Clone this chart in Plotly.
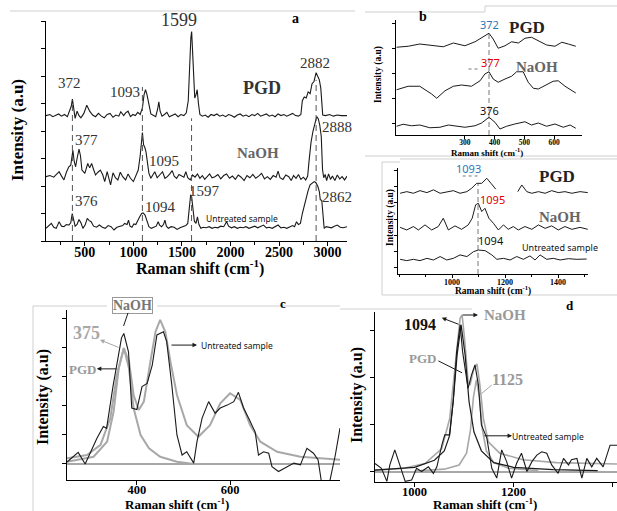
import plotly.graph_objects as go

W, H = 617, 511
SERIF = "Liberation Serif, Times New Roman, serif"
SANS = "Noto Sans, Liberation Sans, sans-serif"


def PX(v):
    return v / W


def PY(v):
    return 1 - v / H


# ---------------- Panel a: full Raman spectra ----------------
a_pgd_x = [100, 140, 170, 200, 230, 260, 290, 320, 340, 360,
           372, 385, 400, 420, 440, 460, 490, 520, 550, 580,
           610, 640, 670, 700, 730, 760, 790, 820, 850, 870,
           900, 920, 945, 970, 995, 1020, 1045, 1070, 1093, 1110,
           1125, 1140, 1160, 1180, 1200, 1230, 1250, 1262, 1275, 1295,
           1320, 1345, 1370, 1400, 1430, 1460, 1490, 1520, 1545, 1565,
           1580, 1592, 1600, 1610, 1620, 1632, 1645, 1657, 1670, 1685,
           1710, 1740, 1770, 1800, 1830, 1860, 1890, 1920, 1950, 1980,
           2010, 2040, 2070, 2100, 2130, 2160, 2190, 2220, 2250, 2280,
           2310, 2340, 2370, 2400, 2430, 2460, 2490, 2520, 2550, 2580,
           2610, 2640, 2670, 2700, 2725, 2740, 2760, 2780, 2800, 2820,
           2840, 2860, 2882, 2900, 2915, 2930, 2940, 2950, 2980, 3020,
           3060, 3100, 3140, 3200]
a_pgd_y = [2.28, 2.30, 2.26, 2.29, 2.31, 2.27, 2.30, 2.26, 2.34, 2.45,
           2.58, 2.38, 2.23, 2.36, 2.28, 2.24, 2.32, 2.47, 2.36, 2.29,
           2.26, 2.32, 2.27, 2.24, 2.30, 2.32, 2.25, 2.29, 2.27, 2.35,
           2.28, 2.33, 2.36, 2.26, 2.30, 2.28, 2.34, 2.30, 2.42, 2.66,
           2.75, 2.66, 2.45, 2.31, 2.29, 2.26, 2.40, 2.53, 2.36, 2.27,
           2.30, 2.34, 2.26, 2.29, 2.31, 2.26, 2.30, 2.28, 2.33, 2.55,
           3.29, 3.70, 3.81, 3.50, 3.10, 2.60, 2.66, 2.75, 2.50, 2.30,
           2.27, 2.29, 2.25, 2.30, 2.28, 2.31, 2.27, 2.29, 2.26, 2.30,
           2.28, 2.25, 2.29, 2.31, 2.27, 2.29, 2.26, 2.30, 2.28, 2.32,
           2.27, 2.29, 2.31, 2.27, 2.29, 2.26, 2.31, 2.28, 2.30, 2.27,
           2.29, 2.32, 2.28, 2.27, 2.30, 2.55, 2.62, 2.60, 2.71, 2.68,
           2.86, 2.90, 3.06, 3.00, 2.93, 2.78, 2.55, 2.29, 2.28, 2.30,
           2.27, 2.29, 2.28, 2.28]

a_naoh_x = [100, 140, 180, 210, 235, 260, 285, 310, 335, 355,
            365, 377, 390, 405, 420, 440, 455, 470, 500, 530,
            550, 570, 590, 610, 635, 660, 685, 705, 730, 750,
            765, 790, 815, 840, 865, 890, 920, 945, 970, 1000,
            1025, 1050, 1070, 1085, 1093, 1105, 1118, 1130, 1145, 1160,
            1180, 1200, 1220, 1245, 1270, 1300, 1325, 1350, 1375, 1400,
            1420, 1445, 1470, 1495, 1520, 1540, 1560, 1585, 1610, 1635,
            1660, 1685, 1710, 1735, 1760, 1785, 1810, 1840, 1870, 1900,
            1930, 1960, 1990, 2020, 2050, 2080, 2110, 2140, 2170, 2200,
            2230, 2260, 2290, 2320, 2350, 2380, 2410, 2440, 2470, 2490,
            2510, 2540, 2570, 2600, 2625, 2650, 2675, 2700, 2725, 2750,
            2775, 2795, 2810, 2830, 2850, 2870, 2888, 2905, 2920, 2935,
            2948, 2960, 2975, 2990, 3010, 3030, 3050, 3075, 3100, 3125,
            3150, 3175, 3200]
a_naoh_y = [1.17, 1.19, 1.16, 1.22, 1.26, 1.18, 1.11, 1.25, 1.35, 1.38,
            1.50, 1.65, 1.45, 1.35, 1.50, 1.67, 1.55, 1.29, 1.23, 1.41,
            1.33, 1.41, 1.30, 1.20, 1.25, 1.29, 1.20, 1.08, 1.26, 1.10,
            1.02, 1.24, 1.15, 1.11, 1.25, 1.17, 1.11, 1.22, 1.14, 1.08,
            1.20, 1.29, 1.55, 1.90, 1.97, 1.75, 1.70, 1.62, 1.40, 1.23,
            1.14, 1.20, 1.26, 1.15, 1.20, 1.26, 1.14, 1.17, 1.22, 1.28,
            1.18, 1.14, 1.21, 1.18, 1.16, 1.26, 1.15, 1.11, 1.20, 1.16,
            1.22, 1.14, 1.19, 1.12, 1.18, 1.22, 1.15, 1.17, 1.21, 1.13,
            1.19, 1.22, 1.14, 1.18, 1.12, 1.20, 1.16, 1.10, 1.19, 1.15,
            1.21, 1.14, 1.18, 1.23, 1.13, 1.17, 1.12, 1.19, 1.16, 1.27,
            1.15, 1.12, 1.20, 1.17, 1.10, 1.19, 1.14, 1.21, 1.12, 1.16,
            1.11, 1.18, 1.47, 1.80, 2.00, 2.14, 2.26, 2.22, 2.10, 1.90,
            1.30, 1.15, 1.21, 1.10, 1.22, 1.12, 1.18, 1.10, 1.20, 1.13,
            1.17, 1.11, 1.18]

a_unt_x = [100, 130, 155, 180, 205, 235, 260, 285, 310, 335,
           355, 370, 385, 400, 420, 440, 460, 480, 505, 525,
           545, 565, 590, 620, 650, 680, 710, 740, 770, 800,
           830, 860, 890, 910, 935, 950, 965, 985, 1005, 1025,
           1045, 1065, 1085, 1100, 1120, 1140, 1160, 1185, 1210, 1235,
           1255, 1270, 1290, 1310, 1325, 1340, 1360, 1390, 1420, 1450,
           1480, 1510, 1540, 1560, 1578, 1590, 1600, 1612, 1628, 1645,
           1660, 1675, 1695, 1720, 1750, 1780, 1810, 1840, 1870, 1900,
           1930, 1960, 1980, 2010, 2040, 2070, 2100, 2130, 2160, 2190,
           2220, 2250, 2280, 2310, 2340, 2370, 2400, 2430, 2460, 2490,
           2520, 2550, 2580, 2610, 2640, 2660, 2680, 2700, 2720, 2740,
           2760, 2780, 2800, 2820, 2840, 2862, 2880, 2900, 2915, 2925,
           2940, 2950, 2965, 2985, 3010, 3040, 3070, 3100, 3130, 3160,
           3200]
a_unt_y = [0.23, 0.28, 0.32, 0.25, 0.23, 0.35, 0.27, 0.26, 0.30, 0.29,
           0.33, 0.50, 0.38, 0.27, 0.30, 0.39, 0.33, 0.23, 0.30, 0.41,
           0.37, 0.35, 0.27, 0.25, 0.29, 0.25, 0.23, 0.28, 0.26, 0.20,
           0.25, 0.26, 0.28, 0.32, 0.30, 0.38, 0.27, 0.25, 0.31, 0.30,
           0.38, 0.44, 0.50, 0.51, 0.47, 0.38, 0.26, 0.23, 0.25, 0.27,
           0.35, 0.29, 0.26, 0.30, 0.38, 0.27, 0.23, 0.26, 0.25, 0.21,
           0.24, 0.26, 0.28, 0.32, 0.62, 0.84, 0.80, 0.62, 0.36, 0.32,
           0.44, 0.30, 0.23, 0.25, 0.24, 0.26, 0.23, 0.25, 0.24, 0.27,
           0.26, 0.35, 0.27, 0.24, 0.26, 0.23, 0.25, 0.24, 0.26, 0.23,
           0.25, 0.27, 0.24, 0.26, 0.29, 0.24, 0.25, 0.23, 0.26, 0.29,
           0.24, 0.25, 0.23, 0.26, 0.28, 0.26, 0.35, 0.30, 0.32, 0.50,
           0.65, 0.81, 0.92, 1.02, 1.05, 1.08, 1.06, 0.99, 0.90, 0.75,
           0.74, 0.45, 0.23, 0.26, 0.25, 0.24, 0.27, 0.29, 0.25, 0.24,
           0.26]

a_peak_x = [372, 1093, 1599, 2882]
a_peak_top = [2.56, 2.80, 2.23, 2.93]

# ---------------- Panel b: 200-650 region ----------------
b_pgd_x = [70, 109, 148, 188, 227, 261, 300, 334, 362, 381, 395, 412,
           435, 457, 480, 502, 524, 547, 575, 603, 626, 648, 673]
b_pgd_y = [3.03, 3.07, 3.16, 3.09, 3.05, 3.20, 3.09, 3.25, 3.47, 3.59, 3.36, 2.99,
           3.09, 3.25, 3.20, 3.39, 3.43, 3.29, 3.12, 3.07, 3.23, 3.16, 3.07]
b_naoh_x = [70, 109, 148, 188, 205, 233, 261, 289, 322, 351, 367, 381, 395,
            412, 435, 457, 474, 496, 513, 530, 547, 575, 597, 614, 637, 673]
b_naoh_y = [1.33, 1.47, 1.47, 1.16, 0.99, 1.29, 1.47, 1.52, 1.47, 1.69, 1.96, 2.05, 1.76,
            1.63, 1.76, 1.87, 2.05, 2.05, 1.63, 1.39, 1.36, 1.52, 1.67, 1.69, 1.47, 1.20]
b_unt_x = [70, 92, 120, 148, 182, 216, 244, 278, 300, 334, 356, 381,
           401, 418, 440, 468, 502, 524, 547, 575, 603, 631, 654, 673]
b_unt_y = [-0.13, -0.05, -0.11, -0.08, -0.19, -0.17, -0.08, -0.13, -0.17, -0.11, 0.0, 0.23,
           0.03, -0.24, -0.13, -0.04, 0.05, -0.08, 0.0, -0.13, -0.04, -0.17, -0.08, -0.21]
b_peak_x = 381
b_peak_top = 3.59
b_ticks = [300, 400, 500, 600]

# ---------------- Inset: 800-1500 region ----------------
i_pgd_x = [804, 829, 854, 879, 905, 930, 955, 980, 1005, 1030, 1056, 1074, 1093,
           1112, 1131, 1147, 1165, None, 1248, 1263, 1282, 1301, 1326, 1351, 1376,
           1401, 1426, 1452, 1483, 1512]
i_pgd_y = [4.58, 4.68, 4.58, 4.74, 4.62, 4.79, 4.58, 4.68, 4.74, 4.58, 4.68, 4.89, 5.19,
           5.19, 5.50, 5.19, 4.83, None, 4.68, 5.09, 4.68, 4.58, 4.68, 4.58, 4.74,
           4.62, 4.68, 4.58, 4.68, 4.62]
i_naoh_x = [804, 829, 854, 873, 898, 923, 948, 967, 986, 1011, 1036, 1061, 1076, 1089,
            1099, 1112, 1124, 1139, 1156, 1175, 1194, 1212, 1231, 1250, 1275, 1301,
            1326, 1351, 1376, 1401, 1426, 1452, 1483, 1512]
i_naoh_y = [2.49, 2.33, 2.54, 2.33, 2.64, 2.33, 2.54, 3.05, 2.33, 2.58, 2.37, 2.64, 3.05, 3.87,
            3.97, 3.46, 3.66, 3.05, 2.74, 2.33, 2.64, 2.37, 2.54, 2.33, 2.54, 2.37,
            2.64, 2.43, 2.58, 2.33, 2.54, 2.37, 2.49, 2.37]
i_unt_x = [804, 829, 854, 879, 905, 930, 955, 980, 1005, 1030, 1056, 1081, 1099, 1125,
           1150, 1169, 1194, 1219, 1244, 1269, 1294, 1313, 1332, 1357, 1382, 1408,
           1439, 1471, 1508]
i_unt_y = [0.53, 0.45, 0.53, 0.45, 0.59, 0.49, 0.70, 0.49, 0.59, 0.80, 0.70, 1.00, 1.10, 1.06,
           0.80, 0.53, 0.59, 0.49, 0.70, 0.53, 0.74, 0.49, 0.80, 0.53, 0.59, 0.49,
           0.57, 0.53, 0.55]
i_peak_x = 1098
i_peak_top = 5.2
i_ticks = [1000, 1200, 1400]

# ---------------- Panel c: fitted 375 region ----------------
c_exp_x = [250, 274, 289, 314, 328, 335, 349, 367, 372, 382,
           389, 400, 411, 422, 433, 443, 457, 464, 475, 486,
           497, 507, 522, 529, 540, 554, 568, 579, 594, 608,
           618, 629, 640, 654, 661, 672, 683, 690, 704, 722,
           737, 751, 765, 779, 789, 796, 814, 826, 836]
c_exp_y = [0.07, 0.40, 0.00, 0.88, 1.29, 1.23, 2.70, 4.35, 4.50, 3.87,
           1.93, 1.88, 2.67, 2.78, 3.41, 4.45, 4.56, 4.22, 2.72, 1.00,
           0.31, 0.42, 0.03, 0.77, 1.58, 2.15, 1.75, 1.93, 2.03, 2.15,
           2.47, 1.93, 1.58, 1.10, 0.31, 0.42, 0.37, -0.09, -0.26, -0.09,
           0.03, -0.03, 0.54, 0.37, 0.14, -0.60, -0.60, 0.31, 1.24]
c_fit_x = [250, 293, 322, 343, 357, 372, 383, 393, 404, 415, 429, 440, 450, 461,
           472, 486, 507, 532, 557, 579, 600, 622, 643, 665, 701, 751, 794, 836]
c_fit_y = [0.20, 0.31, 0.66, 1.58, 3.07, 3.99, 3.53, 2.38, 1.86, 2.15, 3.53, 4.56, 4.97, 4.56,
           3.53, 2.38, 1.34, 0.94, 1.34, 2.09, 2.44, 2.21, 1.34, 0.77, 0.42, 0.25, 0.20, 0.15]
c_pgd_x = [250, 307, 336, 350, 361, 372, 383, 393, 408, 426, 450, 486, 522]
c_pgd_y = [0.08, 0.25, 0.77, 1.80, 3.30, 4.00, 3.30, 1.92, 1.00, 0.54, 0.25, 0.08, 0.00]
c_ticks = [400, 600]

# ---------------- Panel d: fitted 1094 region ----------------
d_exp_x = [920, 933, 944, 950, 960, 970, 981, 994, 1004, 1014,
           1028, 1038, 1045, 1055, 1061, 1071, 1078, 1085, 1092, 1097,
           1104, 1108, 1115, 1122, 1129, 1135, 1146, 1156, 1166, 1176,
           1186, 1196, 1206, 1216, 1227, 1237, 1247, 1257, 1267, 1277,
           1290, 1301, 1311, 1317, 1328, 1338, 1348, 1358, 1368, 1381,
           1395, 1409]
d_exp_y = [0.18, 0.08, -0.20, 0.15, 0.47, 0.15, -0.20, -0.17, 0.08, 0.01,
           0.11, -0.03, 0.11, 0.57, 0.79, 0.79, 1.50, 2.56, 3.13, 2.56,
           1.99, 1.78, 2.06, 2.28, 1.85, 1.00, 0.72, 0.08, -0.13, 0.47,
           0.22, -0.13, 0.18, 0.40, 0.01, 0.22, 0.36, 0.43, 0.40, 0.15,
           -0.03, 0.29, 0.15, 0.26, 0.29, -0.13, 0.29, 0.11, 0.29, 0.11,
           0.57, 0.57]
d_fit_x = [920, 978, 1021, 1055, 1071, 1085, 1092, 1096, 1101, 1108, 1112, 1119,
           1126, 1132, 1139, 1149, 1172, 1219, 1287, 1409]
d_fit_y = [0.04, 0.08, 0.18, 0.50, 1.14, 2.56, 3.27, 3.34, 2.84, 1.92, 1.85, 2.17,
           2.30, 1.85, 1.14, 0.64, 0.40, 0.26, 0.20, 0.17]
d_naoh_x = [920, 1000, 1040, 1060, 1070, 1078, 1086, 1094, 1102, 1110, 1120,
            1135, 1160, 1200, 1280, 1370]
d_naoh_y = [0.04, 0.10, 0.25, 0.45, 0.75, 1.50, 2.50, 3.13, 2.50, 1.50, 0.85,
            0.45, 0.20, 0.10, 0.05, 0.03]
d_pgd_x = [1000, 1060, 1090, 1105, 1113, 1119, 1125, 1131, 1137, 1145, 1160, 1190, 1250]
d_pgd_y = [0.02, 0.06, 0.15, 0.40, 0.90, 1.60, 1.96, 1.60, 0.90, 0.45, 0.20, 0.08, 0.03]
d_ticks = [1000, 1200, 1400]

BLACK = "#1a1a1a"
GRAY = "#a8a8a8"

fig = go.Figure()


def line(x, y, xa, ya, color=BLACK, width=1.1, dash="solid"):
    fig.add_trace(go.Scatter(x=x, y=y, xaxis=xa, yaxis=ya, mode="lines",
                             line=dict(color=color, width=width, dash=dash),
                             hoverinfo="skip", connectgaps=False))


# panel a
line(a_pgd_x, a_pgd_y, "x", "y")
line(a_naoh_x, a_naoh_y, "x", "y")
line(a_unt_x, a_unt_y, "x", "y")
for px_, top in zip(a_peak_x, a_peak_top):
    line([px_, px_], [0, top], "x", "y", color="#555", width=1, dash="6px,4px")

# panel b
line(b_pgd_x, b_pgd_y, "x2", "y2", width=1)
line(b_naoh_x, b_naoh_y, "x2", "y2", width=1)
line(b_unt_x, b_unt_y, "x2", "y2", width=1)
line([b_peak_x, b_peak_x], [-0.48, b_peak_top], "x2", "y2", color="#555", width=0.8, dash="5px,3px")

# inset
line(i_pgd_x, i_pgd_y, "x3", "y3", width=1)
line(i_naoh_x, i_naoh_y, "x3", "y3", width=1)
line(i_unt_x, i_unt_y, "x3", "y3", width=1)
line([i_peak_x, i_peak_x], [-0.37, i_peak_top], "x3", "y3", color="#555", width=0.8, dash="5px,3px")

# panel c
line([250, 836], [0, 0], "x4", "y4", color=GRAY, width=2)
line(c_fit_x, c_fit_y, "x4", "y4", color=GRAY, width=2)
line(c_pgd_x, c_pgd_y, "x4", "y4", color=GRAY, width=2)
line(c_exp_x, c_exp_y, "x4", "y4", width=1.1)

# panel d
line([920, 1409], [0, 0], "x5", "y5", color=GRAY, width=2)
line(d_fit_x, d_fit_y, "x5", "y5", color=GRAY, width=1.6)
line(d_pgd_x, d_pgd_y, "x5", "y5", color=GRAY, width=1.6)
line(d_naoh_x, d_naoh_y, "x5", "y5", color=BLACK, width=1.2)
line(d_exp_x, d_exp_y, "x5", "y5", width=1.1)


def xax(dom, rng, anchor, size, **kw):
    d = dict(domain=dom, range=rng, anchor=anchor, showline=True, linecolor="black",
             linewidth=1, ticks="outside", ticklen=4, tickcolor="black", showgrid=False,
             zeroline=False, tickfont=dict(family=SERIF, size=size, color="black", weight="bold"))
    d.update(kw)
    return d


def yax(dom, rng, anchor, **kw):
    d = dict(domain=dom, range=rng, anchor=anchor, showline=True, linecolor="black",
             linewidth=1, ticks="outside", ticklen=4, tickcolor="black", showgrid=False,
             zeroline=False, showticklabels=False)
    d.update(kw)
    return d


fig.update_layout(
    width=W, height=H, margin=dict(l=0, r=0, t=0, b=0),
    paper_bgcolor="white", plot_bgcolor="white", showlegend=False,
    xaxis=xax([PX(46), PX(347)], [100, 3200], "y", 14, tick0=0, dtick=500,
              ticklabelstandoff=-6,
              minor=dict(ticks="outside", ticklen=3, dtick=250, tickcolor="black")),
    yaxis=yax([PY(241), PY(21)], [0, 4], "x", tick0=0, dtick=0.5),
    xaxis2=xax([PX(396), PX(582)], [68, 694], "y2", 7.5, tickvals=b_ticks, ticklen=3,
               ticklabelstandoff=-3),
    yaxis2=yax([PY(135), PY(20)], [-0.48, 4.12], "x2", tick0=0, dtick=1, ticklen=3),
    xaxis3=xax([PX(398), PX(588)], [796, 1513], "y3", 8, tickvals=i_ticks, ticklen=3,
               ticklabelstandoff=-3,
               minor=dict(ticks="outside", ticklen=2, dtick=100, tickcolor="black")),
    yaxis3=yax([PY(274), PY(168)], [-0.37, 6.13], "x3", tick0=0, dtick=1, ticklen=3),
    xaxis4=xax([PX(67), PX(340)], [250, 836], "y4", 12.5, tickvals=c_ticks,
               ticklabelstandoff=-6),
    yaxis4=yax([PY(480), PY(310)], [-0.552, 5.31], "x4", tick0=0, dtick=1),
    xaxis5=xax([PX(375), PX(617)], [920, 1409], "y5", 12.5, tickvals=d_ticks,
               ticklabelstandoff=-6),
    yaxis5=yax([PY(482), PY(312)], [-0.213, 3.404], "x5", tick0=0, dtick=1),
)

ann = []


def txt(x, y, s, xr, yr, size, color="#222", bold=False, family=SERIF, angle=0, **kw):
    d = dict(x=x, y=y, xref=xr, yref=yr, text=s, showarrow=False, textangle=angle,
             font=dict(family=family, size=size, color=color, weight="bold" if bold else "normal"),
             xanchor="center", yanchor="middle")
    d.update(kw)
    ann.append(d)


def ptxt(xp, yp, s, size, color="#222", bold=False, family=SERIF, angle=0, **kw):
    txt(PX(xp), PY(yp), s, "paper", "paper", size, color, bold, family, angle, **kw)


def arrow(xt, yt, xs, ys, xr, yr, color=BLACK, head=2):
    ann.append(dict(x=xt, y=yt, ax=xs, ay=ys, xref=xr, yref=yr, axref=xr, ayref=yr,
                    text=" ", showarrow=True, arrowhead=head, arrowsize=0.9,
                    arrowwidth=1, arrowcolor=color, standoff=0, startstandoff=0,
                    font=dict(size=1)))


# axis titles (paper)
RS = "Raman shift (cm<sup>-1</sup>)"
ptxt(17, 130, "Intensity (a.u)", 17, "black", True, angle=-90)
ptxt(200, 267, RS, 16, "black", True)
ptxt(378, 75, "Intensity (a.u)", 9.5, "black", True, angle=-90)
ptxt(487, 152, RS, 9, "black", True)
ptxt(390, 218, "Intensity (a.u)", 9.5, "black", True, angle=-90)
ptxt(493, 290, RS, 9.5, "black", True)
ptxt(43, 397, "Intensity (a.u)", 16, "black", True, angle=-90)
ptxt(177, 504, RS, 13, "black", True)
ptxt(357, 395, "Intensity (a.u)", 16, "black", True, angle=-90)
ptxt(485, 504, RS, 13, "black", True)

# panel a labels
txt(337, 2.87, "372", "x", "y", 15, "#333")
txt(914, 2.71, "1093", "x", "y", 15, "#333")
ptxt(179, 20, "1599", 18, "#333")
ptxt(295, 18, "a", 14, "black", True)
txt(2324, 2.78, "PGD", "x", "y", 18, "#333", True)
txt(2870, 3.24, "2882", "x", "y", 15, "#333")
txt(522, 1.84, "377", "x", "y", 15, "#333")
ptxt(337, 127, "2888", 15, "#333")
txt(2283, 1.60, "NaOH", "x", "y", 15, "#666", True)
txt(1315, 1.45, "1095", "x", "y", 15, "#333")
txt(512, 0.73, "376", "x", "y", 15, "#333")
txt(1284, 0.62, "1094", "x", "y", 15, "#333")
txt(1737, 0.91, "1597", "x", "y", 15, "#333")
txt(2118, 0.40, "Untreated sample", "x", "y", 8.5, "#111", False, SANS)
ptxt(337, 197, "2862", 15, "#333")

# panel b labels
ptxt(423, 17, "b", 14, "black", True)
ptxt(489, 25, "372", 11, "#2e75b6", False, SANS)
ptxt(527, 27, "PGD", 17, "#222", True)
ptxt(490, 62, "377", 11, "#e00000", False, SANS)
ptxt(537, 67, "NaOH", 15, "#666", True)
ptxt(489, 110, "376", 11, "#111", False, SANS)

# inset labels
ptxt(469, 168, "1093", 11, "#2e75b6", False, SANS)
ptxt(557, 177, "PGD", 17, "#222", True)
ptxt(493, 199, "1095", 11, "#e00000", False, SANS)
ptxt(560, 217, "NaOH", 15, "#666", True)
ptxt(491, 241, "1094", 11, "#111", False, SANS)
ptxt(560, 247, "Untreated sample", 9, "#111", False, SANS)

# panel c labels
ptxt(132, 305, "NaOH", 14, "#777", True, bordercolor="#999", borderwidth=1,
     bgcolor="white", borderpad=0)
ptxt(86, 333, "375", 18, GRAY, True)
ptxt(82, 369, "PGD", 13, "#999", True)
ptxt(237, 345, "Untreated sample", 8.5, "#111", False, SANS)
ptxt(283, 303, "c", 13, "black", True)
arrow(320.8, 4.28, 363.7, 4.0, "x4", "y4", GRAY)
arrow(314, 3.28, 359.4, 3.28, "x4", "y4", BLACK)
arrow(529, 4.10, 471, 4.10, "x4", "y4", BLACK)
arrow(381, 5.21, 370, 4.69, "x4", "y4", BLACK, head=0)

# panel d labels
ptxt(420, 324, "1094", 16, "#111", True)
ptxt(505, 315, "NaOH", 15, "#999", True)
ptxt(422, 358, "PGD", 13, "#999", True)
ptxt(507, 379, "1125", 16, "#999", True)
ptxt(548, 436, "Untreated sample", 8.5, "#111", False, SANS)
ptxt(570, 305, "d", 13, "black", True)
arrow(1055, 3.28, 1092, 3.13, "x5", "y5", BLACK)
arrow(1128, 3.34, 1094, 3.34, "x5", "y5", BLACK)
arrow(1096, 2.11, 1045, 2.38, "x5", "y5", BLACK, head=0)
arrow(1156, 1.85, 1132, 1.64, "x5", "y5", GRAY, head=0)
arrow(1197, 0.77, 1138, 0.77, "x5", "y5", BLACK)

fig.update_layout(annotations=ann)

# thin frame lines of the composite figure
frames = [
    (10, 11, 355, 11), (365, 12, 485, 12), (485, 6, 617, 6), (485, 6, 485, 12),
    (365, 156, 617, 156), (382, 162, 400, 162), (400, 159, 617, 159),
    (382, 162, 382, 295), (382, 295, 617, 295),
    (33, 306, 107, 306), (157, 306, 340, 306), (33, 306, 33, 511),
    (340, 309, 472, 309),
]
shapes = []
for x0, y0, x1, y1 in frames:
    shapes.append(dict(type="line", xref="paper", yref="paper", x0=PX(x0), y0=PY(y0),
                       x1=PX(x1), y1=PY(y1), line=dict(color="#cfcfcf", width=1)))
shapes.append(dict(type="line", xref="x2", yref="y2", x0=312, x1=352, y0=2.16, y1=2.16,
                   line=dict(color="#555", width=0.8, dash="dot")))
shapes.append(dict(type="line", xref="x3", yref="y3", x0=1040, x1=1096, y0=5.64, y1=5.64,
                   line=dict(color="#555", width=0.8, dash="dot")))
fig.update_layout(shapes=shapes)

fig.write_html("out.html", config={"displayModeBar": False},
               post_script="document.body.style.margin='0';document.body.style.overflow='hidden';")
